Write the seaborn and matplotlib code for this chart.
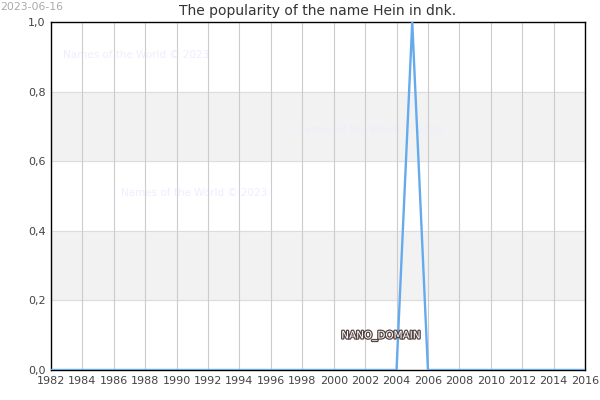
import matplotlib
matplotlib.use("Agg")
import matplotlib.pyplot as plt
import matplotlib.patheffects as pe
import pandas as pd
import seaborn as sns

# popularity per year (0 everywhere except 2005)
years = list(range(1982, 2017))
popularity = [1.0 if y == 2005 else 0.0 for y in years]
title = "The popularity of the name Hein in dnk."
date_label = "2023-06-16"
watermark = "Names of the World © 2023"
x_ticks = list(range(1982, 2017, 2))
y_ticks = [0.0, 0.2, 0.4, 0.6, 0.8, 1.0]

df = pd.DataFrame({"year": years, "popularity": popularity})

sns.set_style("white")
plt.rcParams['font.family'] = ['DejaVu Sans']

fig = plt.figure(figsize=(6, 4), dpi=100)
ax = fig.add_axes([0.085, 0.075, 0.89, 0.87])

# alternating horizontal bands
for lo, hi in [(0.2, 0.4), (0.6, 0.8)]:
    ax.axhspan(lo, hi, color="#f2f2f2", zorder=0)
    ax.axhline(lo, color="#dddddd", lw=0.8, zorder=0.5)
    ax.axhline(hi, color="#dddddd", lw=0.8, zorder=0.5)

for x in x_ticks:
    ax.axvline(x, color="#cccccc", lw=0.8, zorder=1)

# watermarks
for tx, ty in [(0.16, 0.905), (0.597, 0.69), (0.268, 0.51)]:
    ax.text(tx, ty, watermark, transform=ax.transAxes, color="#eeeeff",
            fontsize=7.5, ha="center", va="center", zorder=0.8)

sns.lineplot(data=df, x="year", y="popularity", ax=ax, color="#66aaee",
             lw=1.7, zorder=3)

ax.text(2003, 0.098, "NANO_DOMAIN", fontsize=7.5, color="white", ha="center",
        va="center", zorder=4,
        path_effects=[pe.withStroke(linewidth=1.8, foreground="#554444")])

ax.set_xlim(1982, 2016)
ax.set_ylim(0, 1)
ax.set_xticks(x_ticks)
ax.set_yticks(y_ticks)
ax.set_yticklabels([f"{v:.1f}".replace(".", ",") for v in y_ticks])
ax.tick_params(labelsize=8, colors="#444444", length=0, pad=4)
ax.set_xlabel("")
ax.set_ylabel("")
for s in ax.spines.values():
    s.set_color("black")
    s.set_linewidth(1)

ax.set_title(title, fontsize=10, color="#333333", pad=5)
fig.text(0.0, 0.995, date_label, fontsize=7.8, color="#aaaaaa", ha="left", va="top")

fig.savefig("out.png", dpi=100)
